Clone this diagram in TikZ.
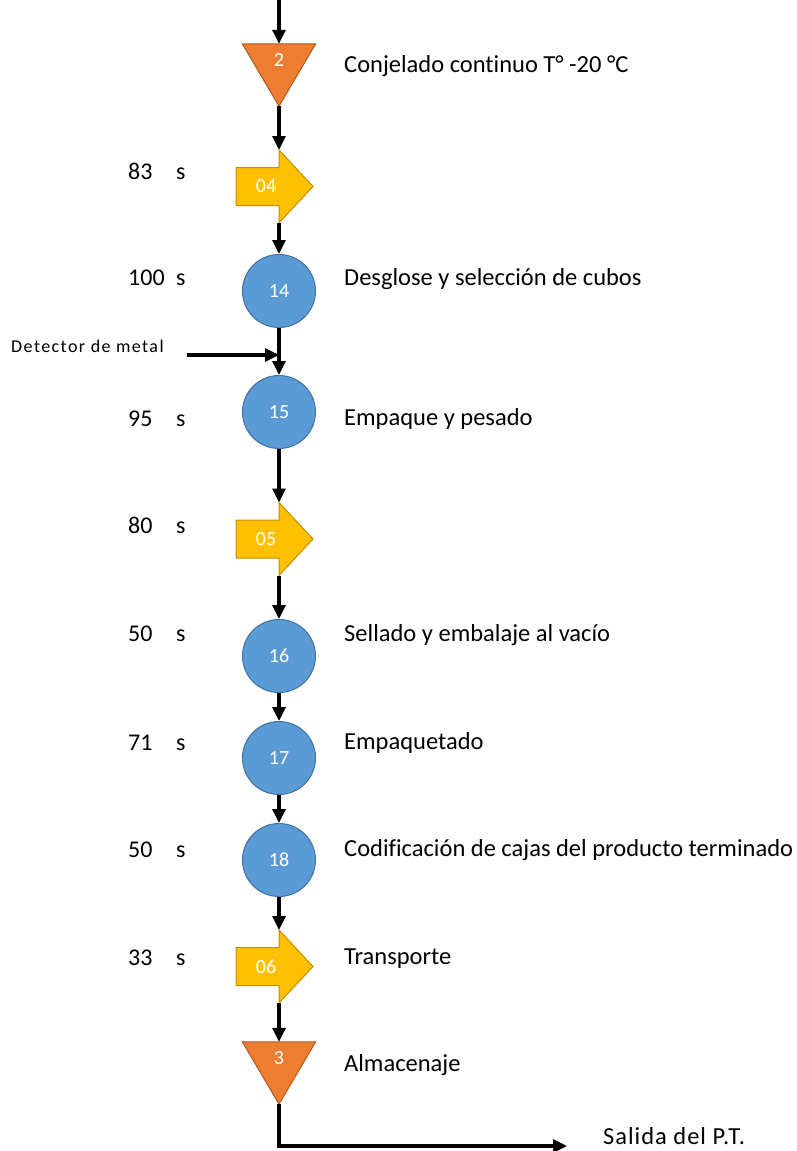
\documentclass[tikz,border=0pt]{standalone}
\usepackage{fontspec}
\setmainfont{Carlito}[Ligatures=NoCommon]
\usetikzlibrary{arrows.meta}
\definecolor{opOrange}{HTML}{ED7D31}
\definecolor{opOrangeEdge}{HTML}{AE5A21}
\definecolor{opYellow}{HTML}{FFC000}
\definecolor{opYellowEdge}{HTML}{BF9000}
\definecolor{opBlue}{HTML}{5B9BD5}
\definecolor{opBlueEdge}{HTML}{41719C}

% transport symbol: pentagon arrow with its entry/exit points on the main line
\newcommand\moveArrow[3]{%
  \node[boxframe] (#1) at (274.5,#2) {};
  \filldraw[yellowshape] (236,{#2-19}) -- (279,{#2-19}) -- (279,{#2-36.5}) -- (313,#2)
     -- (279,{#2+36.5}) -- (279,{#2+19}) -- (236,{#2+19}) -- cycle;
  \node[symtext] at (266,#2) {#3};
  \coordinate (#1-in) at (279,{#2-36.5});
  \coordinate (#1-out) at (279,{#2+36.5});
}
% storage symbol: downward triangle
\newcommand\storeTri[4]{%
  \node[triframe] (#1) at (#2,#3) {};
  \filldraw[orangeshape] (#1.north west) -- (#1.north east) -- (#1.south) -- cycle;
  \node[symtext] at ({#2},{#3-15}) {#4};
}

\begin{document}
\begin{tikzpicture}[x=1pt,y=-1pt,
  flow/.style={line width=3.2pt, -{Triangle[length=14pt,width=13pt]}},
  boxframe/.style={rectangle, minimum width=77pt, minimum height=73pt, inner sep=0pt, draw=none},
  triframe/.style={rectangle, minimum width=73pt, minimum height=62pt, inner sep=0pt, draw=none},
  yellowshape/.style={fill=opYellow, draw=opYellowEdge, line width=1pt, line join=miter},
  orangeshape/.style={fill=opOrange, draw=opOrangeEdge, line width=1pt},
  opcircle/.style={circle, fill=opBlue, draw=opBlueEdge, line width=1pt, minimum size=73pt,
    inner sep=0pt, text=white, font=\fontsize{20}{20}\selectfont},
  symtext/.style={text=white, font=\fontsize{20}{20}\selectfont, inner sep=0pt},
  desc/.style={anchor=base west, font=\fontsize{24.5}{24.5}\selectfont, inner sep=0pt},
  timetxt/.style={anchor=base west, font=\fontsize{24}{24}\selectfont, inner sep=0pt}]

\useasboundingbox (0,0) rectangle (797,1151);

% symbols
\storeTri{t2}{279}{75}{2}
\moveArrow{a04}{186.5}{04}
\node[opcircle] (c14) at (279,291) {14};
\node[opcircle] (c15) at (279,412) {15};
\moveArrow{a05}{539}{05}
\node[opcircle] (c16) at (279,656) {16};
\node[opcircle] (c17) at (279,758) {17};
\node[opcircle] (c18) at (279,860) {18};
\moveArrow{a06}{966.5}{06}
\storeTri{t3}{279}{1073}{3}

% connectors
\coordinate (start) at (279,0);
\coordinate (det) at (187,355);
\coordinate (exit) at (567,1146);
\draw[flow] (start) -- (t2.north);
\draw[flow] (t2.south) -- (a04-in);
\draw[flow] (a04-out) -- (c14.north);
\draw[flow] (c14.south) -- (c15.north);
\draw[flow] (det) -- (det -| c14.south);
\draw[flow] (c15.south) -- (a05-in);
\draw[flow] (a05-out) -- (c16.north);
\draw[flow] (c16.south) -- (c17.north);
\draw[flow] (c17.south) -- (c18.north);
\draw[flow] (c18.south) -- (a06-in);
\draw[flow] (a06-out) -- (t3.north);
\draw[flow] (t3.south) |- (exit);

% descriptions
\node[desc] (d2) at (344,72) {Conjelado continuo T° -20 °C};
\node[desc] (d14) at (344,285) {Desglose y selección de cubos};
\node[desc] (d15) at (344,425) {Empaque y pesado};
\node[desc] (d16) at (344,641) {Sellado y embalaje al vacío};
\node[desc] (d17) at (344,749) {Empaquetado};
\node[desc] (d18) at (344,856) {Codificación de cajas del producto terminado};
\node[desc] (d06) at (344,964) {Transporte};
\node[desc] (d3) at (344,1071) {Almacenaje};
\node[desc, font=\fontsize{24.5}{24.5}\selectfont\addfontfeatures{LetterSpace=4}] (dout) at (603,1144) {Salida del P.T.};
\node[anchor=base west, inner sep=0pt, font=\fontsize{18}{18}\selectfont\addfontfeatures{LetterSpace=8}] (ddet) at (11,352) {Detector de metal};

% times
\foreach \t/\y in {83/179, 100/285, 95/426, 80/533, 50/641, 71/750, 50/857, 33/965}{
  \node[timetxt] at (128,\y) {\t};
  \node[timetxt] at (176,\y) {s};
}
\end{tikzpicture}
\end{document}
